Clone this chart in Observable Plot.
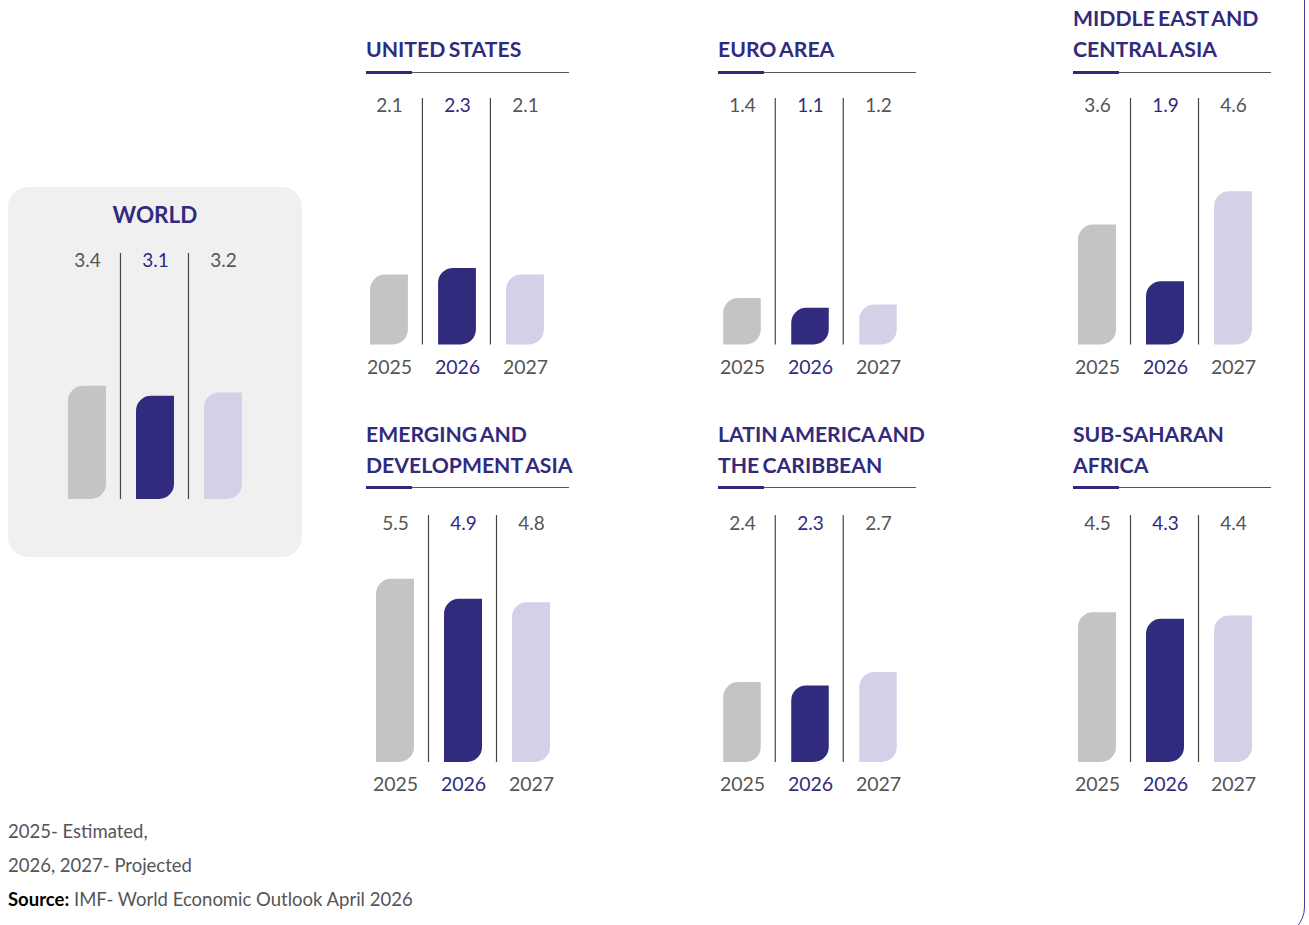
<!DOCTYPE html>
<html><head><meta charset="utf-8">
<script src="https://cdn.jsdelivr.net/npm/d3@7"></script>
<script src="https://cdn.jsdelivr.net/npm/@observablehq/plot@0.6"></script>
<style>
html,body{margin:0;padding:0;background:#fff;}
#page{position:relative;width:1309px;height:925px;overflow:hidden;font-family:Lato, "Noto Sans", sans-serif;}
.title{position:absolute;font-weight:700;font-size:21.2px;line-height:31px;color:#312b7e;white-space:nowrap;word-spacing:-1.8px;}
.uline{position:absolute;height:1px;background:#555;}
.uline i{position:absolute;left:0;top:-1px;width:46px;height:3px;background:#312b7e;}
.plot{position:absolute;}
.box{position:absolute;left:8px;top:187px;width:294px;height:370px;background:#f0f0f0;border-radius:20px;}
.notes{position:absolute;left:8px;font-size:18.5px;line-height:34px;color:#555;white-space:nowrap;}
.notes b{color:#000;}
.frame{position:absolute;left:-50px;top:-50px;width:1355px;height:987px;box-sizing:border-box;border:1.5px solid #43399a;border-radius:30px;}
</style></head><body><div id="page"></div>
<script>
// ---- data ----
const years = ["2025", "2026", "2027"];
const regionTitles = [
  ["WORLD"],
  ["UNITED STATES"],
  ["EURO AREA"],
  ["MIDDLE EAST AND", "CENTRAL ASIA"],
  ["EMERGING AND", "DEVELOPMENT ASIA"],
  ["LATIN AMERICA AND", "THE CARIBBEAN"],
  ["SUB-SAHARAN", "AFRICA"]
];
const world = [3.4, 3.1, 3.2];
const unitedStates = [2.1, 2.3, 2.1];
const euroArea = [1.4, 1.1, 1.2];
const middleEastCentralAsia = [3.6, 1.9, 4.6];
const emergingDevelopmentAsia = [5.5, 4.9, 4.8];
const latinAmericaCaribbean = [2.4, 2.3, 2.7];
const subSaharanAfrica = [4.5, 4.3, 4.4];
const notes = ["2025- Estimated,", "2026, 2027- Projected"];
const sourceLabel = "Source:";
const sourceText = " IMF- World Economic Outlook April 2026";

// ---- style ----
const barColors = ["#c4c4c4", "#312b7e", "#d3d0e8"];
const grey = "#555555", purple = "#312b7e";
const PX_PER_UNIT = 33.3;

const page = document.getElementById("page");
function el(tag, cls, css, html) {
  const e = document.createElement(tag);
  if (cls) e.className = cls;
  if (css) Object.assign(e.style, css);
  if (html != null) e.innerHTML = html;
  page.appendChild(e);
  return e;
}

el("div", "frame");
el("div", "box");

function addPanel(p) {
  const step = (p.c2 - p.c0) / 2;
  const pad = 12;
  const L = p.c0 - step / 2 - pad;
  const W = (p.c2 + step / 2 + pad) - L;
  const T = p.valueY - 20;
  const B = (p.yearY != null ? p.yearY : p.bottom) + 20;
  const H = B - T;
  const data = years.map((y, i) => ({year: y, value: p.values[i]}));
  const inset = (step - 38) / 2;
  const txt = (key, yPix, size, is2026) => Plot.text(data, {
    filter: d => (d.year === "2026") === is2026, x: "year", text: key,
    frameAnchor: "top", lineAnchor: "middle", dy: yPix - T, fontSize: size, fill: is2026 ? purple : grey
  });
  const fmt = d => d.value.toFixed(1);
  const marks = [
    Plot.ruleX(years.slice(1), {x: d => d, dx: -step / 2 - 1, stroke: "#444", strokeWidth: 1.2,
      insetTop: p.sepTop - T, insetBottom: H - (p.bottom - T)}),
    Plot.barY(data, {x: "year", y: "value", fill: "year", insetLeft: inset, insetRight: inset, rx1y1: 15, rx2y2: 15}),
    txt(fmt, p.valueY, 19, false),
    txt(fmt, p.valueY, 19, true)
  ];
  if (p.yearY != null) marks.push(txt("year", p.yearY, 19.5, false), txt("year", p.yearY, 19.5, true));
  const chart = Plot.plot({
    width: W, height: H, margin: 0,
    x: {type: "band", domain: years, range: [pad, W - pad], padding: 0, axis: null},
    y: {domain: [0, 1], range: [p.bottom - T, p.bottom - T - PX_PER_UNIT], axis: null},
    color: {type: "ordinal", domain: years, range: barColors},
    style: {background: "transparent", fontFamily: "Lato", overflow: "visible"},
    marks
  });
  chart.classList.add("plot");
  chart.style.left = L + "px";
  chart.style.top = T + "px";
  page.appendChild(chart);

  // title
  const t = el("div", "title", {}, p.title.join("<br>"));
  if (p.center) {
    Object.assign(t.style, {left: "8px", width: "294px", textAlign: "center", fontSize: "22.5px", top: (p.titleBase - 24.2) + "px"});
  } else {
    const lines = p.title.length;
    t.style.left = p.tx + "px";
    t.style.top = (p.titleBase - 23.2 - (lines - 1) * 31) + "px";
    el("div", "uline", {left: p.tx + "px", top: p.ulineY + "px", width: p.uw + "px"}, "<i></i>");
  }
}

addPanel({title: regionTitles[0], values: world, c0: 87.2, c2: 223.3, valueY: 260, sepTop: 253, bottom: 499, center: true, titleBase: 223});
addPanel({title: regionTitles[1], values: unitedStates, c0: 389.2, c2: 525.5, valueY: 105, sepTop: 98, bottom: 344.5, yearY: 367, tx: 366, uw: 203, titleBase: 57, ulineY: 72});
addPanel({title: regionTitles[2], values: euroArea, c0: 741, c2: 878, valueY: 105, sepTop: 98, bottom: 344.5, yearY: 367, tx: 718, uw: 198, titleBase: 57, ulineY: 72});
addPanel({title: regionTitles[3], values: middleEastCentralAsia, c0: 1097, c2: 1233, valueY: 105, sepTop: 98, bottom: 344.5, yearY: 367, tx: 1073, uw: 198, titleBase: 57.5, ulineY: 72});
addPanel({title: regionTitles[4], values: emergingDevelopmentAsia, c0: 395, c2: 531, valueY: 523, sepTop: 515, bottom: 762, yearY: 784, tx: 366, uw: 203, titleBase: 473.5, ulineY: 486.5});
addPanel({title: regionTitles[5], values: latinAmericaCaribbean, c0: 741, c2: 878, valueY: 523, sepTop: 515, bottom: 762, yearY: 784, tx: 718, uw: 198, titleBase: 473.5, ulineY: 486.5});
addPanel({title: regionTitles[6], values: subSaharanAfrica, c0: 1097, c2: 1233, valueY: 523, sepTop: 515, bottom: 762, yearY: 784, tx: 1073, uw: 198, titleBase: 473.5, ulineY: 486.5});

// notes: baselines at 838, 872, 906
const n = el("div", "notes", {}, notes.join("<br>") + "<br><b>" + sourceLabel + "</b>" + sourceText);
n.style.top = (838 - ((34 - 18.5 * 1.2) / 2 + 0.987 * 18.5)) + "px";
</script></body></html>
